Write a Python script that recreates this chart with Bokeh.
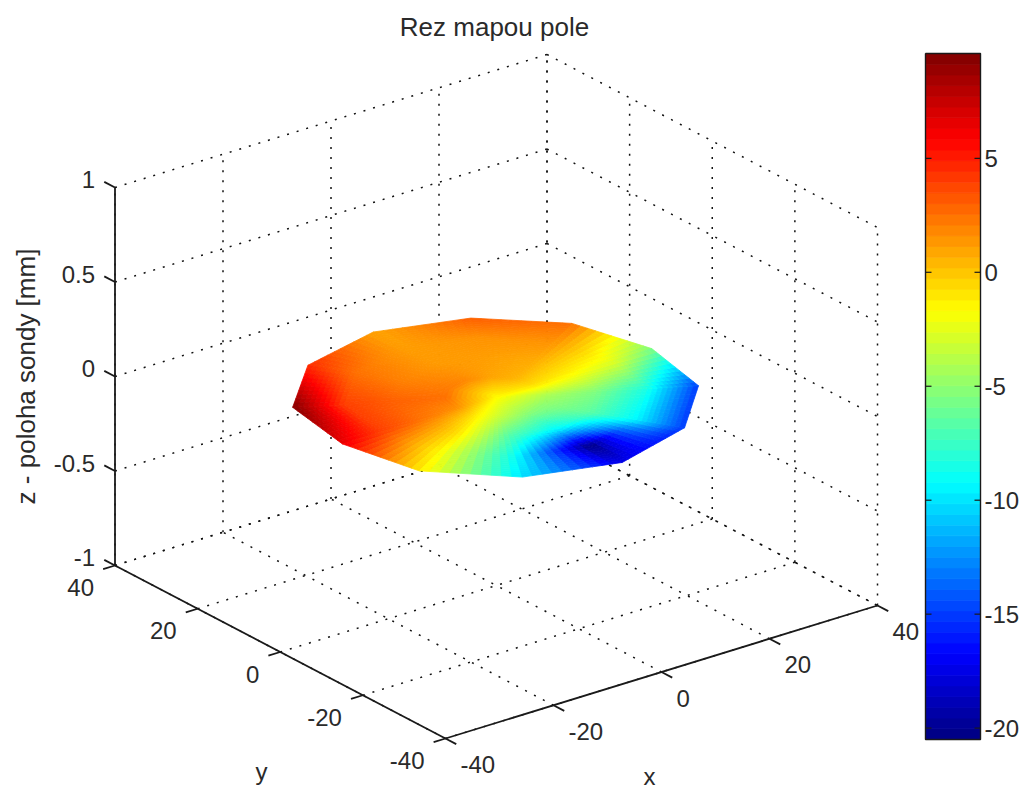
import numpy as np
from bokeh.plotting import figure
from bokeh.models import ColumnDataSource, Range1d
from bokeh.core.properties import value
from bokeh.embed import file_html
from bokeh.resources import INLINE

# ---- data ----
title_text = "Rez mapou pole"
x_label = "x"
y_label = "y"
z_label = "z - poloha sondy [mm]"
x_ticks = [-40, -20, 0, 20, 40]
y_ticks = [-40, -20, 0, 20, 40]
z_ticks = [-1, -0.5, 0, 0.5, 1]
z_tick_labels = ["-1", "-0.5", "0", "0.5", "1"]
cbar_ticks = [5, 0, -5, -10, -15, -20]
cbar_min = -20.5
cbar_max = 9.6

ring_frac = [0, 0.25, 0.5, 0.75, 1]
rim_radius = [28.8, 29.0, 29.0, 29.8, 30.0, 30.2, 28.5, 29.5, 29.8, 30.5, 30.0, 30.0]
spoke_deg = [0, 30, 60, 90, 120, 150, 180, 210, 240, 270, 300, 330]
field_center = -1.5
field_r75 = [-0.8, 0.5, 1.0, 1.8, 2.2, 2.5, 1.5, -1.2, -3.5, -5.0, -5.0, -4.0]
field_r150 = [-1.5, 0.8, 1.2, 1.3, 2.0, 3.0, 2.5, -0.8, -6.8, -9.5, -6.5, -5.5]
field_r225 = [-2.5, 1.5, 1.5, 1.2, 2.5, 4.0, 4.0, -1.5, -9.0, -20.5, -9.5, -8.5]
field_r300 = [-5.5, 2.5, 3.0, 1.0, 4.5, 9.5, 6.5, -1.0, -10.0, -17.5, -15.0, -15.0]

# ---- projection of the 3D box onto the picture ----
O = np.array([114.5, 565.0])
U = np.array([432.0, -133.0])
V = np.array([330.5, 173.0])
W = 378.0

def proj(x, y, z):
    x, y, z = np.asarray(x, float), np.asarray(y, float), np.asarray(z, float)
    u = (x + 40) / 80
    v = (40 - y) / 80
    w = (z + 1) / 2
    return O[0] + u * U[0] + v * V[0], O[1] + u * U[1] + v * V[1] - w * W

def jet(t):
    r = np.clip(min(4 * t - 1.5, -4 * t + 4.5), 0, 1)
    g = np.clip(min(4 * t - 0.5, -4 * t + 3.5), 0, 1)
    b = np.clip(min(4 * t + 0.5, -4 * t + 2.5), 0, 1)
    return "#%02x%02x%02x" % (int(r * 255), int(g * 255), int(b * 255))

def vcolor(v):
    return jet(float(np.clip((v - cbar_min) / (cbar_max - cbar_min), 0, 1)))

p = figure(width=1024, height=789, x_range=Range1d(0, 1024), y_range=Range1d(789, 0),
           min_border=0, toolbar_location=None, output_backend="svg",
           outline_line_color=None, background_fill_color="white", border_fill_color="white")
p.xaxis.visible = False
p.yaxis.visible = False
p.xgrid.visible = False
p.ygrid.visible = False

# ---- dotted grid ----
gx, gy = [], []
def seg(a, b):
    xs, ys = proj([a[0], b[0]], [a[1], b[1]], [a[2], b[2]])
    gx.append(list(xs)); gy.append(list(ys))
for t in x_ticks:
    seg((t, -40, -1), (t, 40, -1))
    seg((t, 40, -1), (t, 40, 1))
for t in y_ticks:
    seg((-40, t, -1), (40, t, -1))
    seg((40, t, -1), (40, t, 1))
for t in z_ticks:
    seg((-40, 40, t), (40, 40, t))
    seg((40, 40, t), (40, -40, t))
p.multi_line(gx, gy, line_color="#111111", line_width=1.5, line_dash="2 8")

# ---- axes ----
ax_col = "#1a1a1a"
ax = [((-40, 40, -1), (-40, 40, 1)), ((-40, 40, -1), (-40, -40, -1)), ((-40, -40, -1), (40, -40, -1))]
tx, ty = [], []
for a, b in ax:
    xs, ys = proj([a[0], b[0]], [a[1], b[1]], [a[2], b[2]])
    tx.append(list(xs)); ty.append(list(ys))
for t in z_ticks:
    xs, ys = proj([-40, -40], [40, 42.6], [t, t]); tx.append(list(xs)); ty.append(list(ys))
for t in y_ticks:
    xs, ys = proj([-40, -42.2], [t, t], [-1, -1]); tx.append(list(xs)); ty.append(list(ys))
for t in x_ticks:
    xs, ys = proj([t, t], [-40, -42.6], [-1, -1]); tx.append(list(xs)); ty.append(list(ys))
p.multi_line(tx, ty, line_color=ax_col, line_width=1.8)

# ---- surface, shaded between the nodes ----
spokes = np.radians(spoke_deg)
vals = np.array([[field_center] * 12, field_r75, field_r150, field_r225, field_r300])
N = 10
px, py, pc = [], [], []
def bil(c, a, b):
    return (1 - a) * (1 - b) * c[0] + a * (1 - b) * c[1] + a * b * c[2] + (1 - a) * b * c[3]
for i in range(len(ring_frac) - 1):
    for j in range(12):
        k = (j + 1) % 12
        rj, rk = rim_radius[j], rim_radius[k]
        f0, f1 = ring_frac[i], ring_frac[i + 1]
        cx = [f0 * rj * np.cos(spokes[j]), f0 * rk * np.cos(spokes[k]),
              f1 * rk * np.cos(spokes[k]), f1 * rj * np.cos(spokes[j])]
        cy = [f0 * rj * np.sin(spokes[j]), f0 * rk * np.sin(spokes[k]),
              f1 * rk * np.sin(spokes[k]), f1 * rj * np.sin(spokes[j])]
        cv = [vals[i, j], vals[i, k], vals[i + 1, k], vals[i + 1, j]]
        for m in range(N):
            for n in range(N):
                a0, a1, b0, b1 = m / N, (m + 1) / N, n / N, (n + 1) / N
                qx = [bil(cx, a0, b0), bil(cx, a1, b0), bil(cx, a1, b1), bil(cx, a0, b1)]
                qy = [bil(cy, a0, b0), bil(cy, a1, b0), bil(cy, a1, b1), bil(cy, a0, b1)]
                sx, sy = proj(qx, qy, [0, 0, 0, 0])
                px.append(list(sx)); py.append(list(sy))
                pc.append(vcolor(bil(cv, (a0 + a1) / 2, (b0 + b1) / 2)))
p.patches("xs", "ys", source=ColumnDataSource(dict(xs=px, ys=py, c=pc)),
          fill_color="c", line_color="c", line_width=0.8)

# ---- colorbar ----
CB_L, CB_R, CB_T, CB_B = 925, 980, 53, 739
def cby(v):
    return CB_B + (v - cbar_min) / (cbar_max - cbar_min) * (CB_T - CB_B)
lev = np.linspace(cbar_min, cbar_max, 65)
cols = [jet((q + 0.5) / 64) for q in range(64)]
p.quad(left=CB_L, right=CB_R, top=[cby(v) for v in lev[1:]], bottom=[cby(v) for v in lev[:-1]],
       fill_color=cols, line_color=cols, line_width=0.8)
p.multi_line([[CB_L, CB_R, CB_R, CB_L, CB_L]], [[CB_T, CB_T, CB_B, CB_B, CB_T]], line_color=ax_col, line_width=1.4)
p.multi_line([[CB_L, CB_L + 6] for _ in cbar_ticks] + [[CB_R - 6, CB_R] for _ in cbar_ticks],
             [[cby(v)] * 2 for v in cbar_ticks] * 2, line_color=ax_col, line_width=1.2)

# ---- texts ----
FONT = value("Liberation Sans")
TS = "24px"
COL = "#2a2a2a"
def put(x, y, s, align="center", size=TS, angle=0):
    p.text([x], [y], text=[s], text_font=FONT, text_font_size=size, text_color=COL,
           text_align=align, text_baseline="middle", angle=angle)

for t, s in zip(z_ticks, z_tick_labels):
    xx, yy = proj(-40, 40, t)
    put(float(xx) - 20, float(yy) - 8, s, "right")
for t in y_ticks:
    xx, yy = proj(-40, t, -1)
    put(float(xx) - 21, float(yy) + 22, str(t), "right")
for t in x_ticks:
    xx, yy = proj(t, -40, -1)
    put(float(xx) + 15, float(yy) + 26, str(t), "left")
for v in cbar_ticks:
    put(984, cby(v), str(v), "left")

put(494, 26, title_text, size="26px")
put(25, 376, z_label, size="26px", angle=np.pi / 2)
put(261, 771, y_label)
put(649, 776, x_label)

open("out.html", "w").write(file_html(p, INLINE))
